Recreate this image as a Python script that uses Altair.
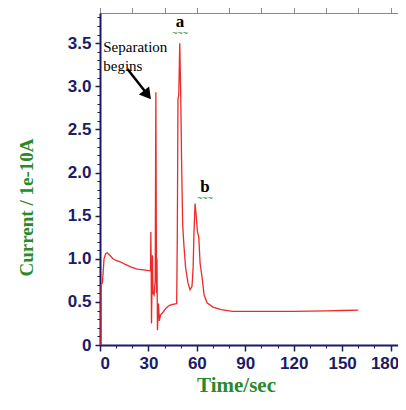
import altair as alt
import pandas as pd

# ---- data ----
time_s = [0.6, 0.7, 1.5, 2.5, 3.5, 4.5, 6, 8, 10, 12.5, 15, 19, 23, 27, 31.0,
          31.3, 31.5, 31.7, 31.9, 32.2, 32.5, 32.8, 33.5, 34.2, 34.6, 35.0, 35.3, 35.6,
          36.2, 36.8, 37.5, 39, 41, 43, 45, 47.5,
          47.9, 48.3, 48.8, 49.4, 50.0, 50.6, 51.2, 52.0, 53.0, 54.5, 55.8, 57.0,
          57.7, 58.2, 58.9, 59.6, 60.3, 61.2, 62.0, 63.2, 64.5, 66.3, 70, 75, 82,
          90, 100, 120, 140, 150, 160]
current = [0.0, 0.70, 0.72, 1.00, 1.06, 1.07, 1.04, 1.00, 0.98, 0.965, 0.94, 0.905, 0.88, 0.87, 0.86,
           0.87, 1.31, 0.90, 0.25, 0.65, 1.04, 0.60, 0.58, 0.75, 2.93, 0.60, 1.00, 0.17,
           0.48, 0.28, 0.35, 0.38, 0.43, 0.46, 0.47, 0.48,
           1.30, 2.85, 2.90, 3.50, 2.90, 2.05, 1.40, 1.15, 0.90, 0.72, 0.64, 0.68,
           0.90, 1.30, 1.64, 1.50, 1.32, 1.25, 0.95, 0.79, 0.58, 0.49, 0.44, 0.41, 0.39,
           0.39, 0.39, 0.39, 0.395, 0.40, 0.405]

x_major = [0, 30, 60, 90, 120, 150, 180]
x_minor = list(range(0, 190, 10))
y_major = [0, 0.5, 1.0, 1.5, 2.0, 2.5, 3.0, 3.5]
y_minor = [round(i * 0.1, 1) for i in range(0, 39)]

note_text = ["Separation", "begins"]
note_t = [2.0, 2.0]
note_c = [3.46, 3.24]

peak_labels = ["a", "b"]
peak_t = [49.6, 65.0]
peak_c = [3.75, 1.83]

arrow_t, arrow_c = [17.0], [3.2]
arrow_t2, arrow_c2 = [28.8], [2.92]
head_t, head_c = [29.4], [2.90]

df = pd.DataFrame({"t": time_s, "c": current})
NAVY = "#1b1b66"
GREEN = "#2a8a2a"
RED = "#ec2a2a"

xs = alt.Scale(domain=[0, 184.6], nice=False, zero=False)
ys = alt.Scale(domain=[0, 3.85], nice=False, zero=False)

line = alt.Chart(df).mark_line(color=RED, strokeWidth=1.3).encode(
    x=alt.X("t:Q", scale=xs, axis=alt.Axis(
        values=x_major, orient="bottom", title="Time/sec", grid=False,
        domainColor=NAVY, domainWidth=2, tickColor=NAVY, tickSize=6, tickWidth=1.5,
        labelColor=NAVY, labelFont="Liberation Sans", labelFontSize=17, labelFontWeight="bold",
        labelPadding=4,
        labelOffset={"condition": {"test": "datum.value === 180", "value": -6}, "value": 0},
        titleColor=GREEN, titleFont="Liberation Serif", titleFontSize=21, titleFontWeight="bold",
        titleX=136, titleY=40, titleAlign="center", titleBaseline="middle")),
    y=alt.Y("c:Q", scale=ys, axis=alt.Axis(
        values=y_major, orient="left", title="Current / 1e-10A", grid=False,
        labelExpr="datum.value == 0 ? '0' : format(datum.value, '.1f')",
        domainColor=NAVY, domainWidth=2, tickColor=NAVY, tickSize=5, tickWidth=1.5,
        labelColor=NAVY, labelFont="Liberation Sans", labelFontSize=17, labelFontWeight="bold",
        labelPadding=4,
        titleColor=GREEN, titleFont="Liberation Serif", titleFontSize=19, titleFontWeight="bold",
        titleX=-74, titleY=194, titleAngle=270, titleAlign="center", titleBaseline="middle")),
)

minor = alt.Chart(df).mark_line(opacity=0).encode(
    x=alt.X("t:Q", scale=xs, axis=alt.Axis(
        values=x_minor, orient="bottom", title="", labels=False, domain=False, grid=False,
        tickColor=NAVY, tickSize=3, tickWidth=1)),
    y=alt.Y("c:Q", scale=ys, axis=alt.Axis(
        values=y_minor, orient="left", title="", labels=False, domain=False, grid=False,
        tickColor=NAVY, tickSize=3, tickWidth=1)),
)

notes = alt.Chart(pd.DataFrame({"t": note_t, "c": note_c, "s": note_text})).mark_text(
    align="left", baseline="middle", font="Liberation Serif", fontSize=15, color="black"
).encode(x="t:Q", y="c:Q", text="s:N")

peaks = alt.Chart(pd.DataFrame({"t": peak_t, "c": peak_c, "s": peak_labels})).mark_text(
    align="center", baseline="middle", font="Liberation Serif", fontSize=17,
    fontWeight="bold", color="black"
).encode(x="t:Q", y="c:Q", text="s:N")

squig = alt.Chart(pd.DataFrame({"t": peak_t, "c": [v - 0.13 for v in peak_c]})).mark_text(
    align="center", baseline="middle", fontSize=9, color=GREEN, text="~~~"
).encode(x="t:Q", y="c:Q")

arrow = alt.Chart(pd.DataFrame({"t": arrow_t, "c": arrow_c, "t2": arrow_t2, "c2": arrow_c2})).mark_rule(
    color="black", strokeWidth=2.5
).encode(x="t:Q", y="c:Q", x2="t2:Q", y2="c2:Q")

head = alt.Chart(pd.DataFrame({"t": head_t, "c": head_c})).mark_point(
    shape="triangle-up", filled=True, color="black", opacity=1, size=170, angle=142
).encode(x="t:Q", y="c:Q")

chart = alt.layer(line, minor, notes, peaks, squig, arrow, head).resolve_axis(
    x="independent", y="independent"
).properties(
    width=298, height=332,
    autosize=alt.AutoSizeParams(type="none"),
    padding={"left": 92, "top": 5, "right": 0, "bottom": 51},
).configure_view(stroke=None)

chart.save("out.html", embed_options={"renderer": "svg", "actions": False})
